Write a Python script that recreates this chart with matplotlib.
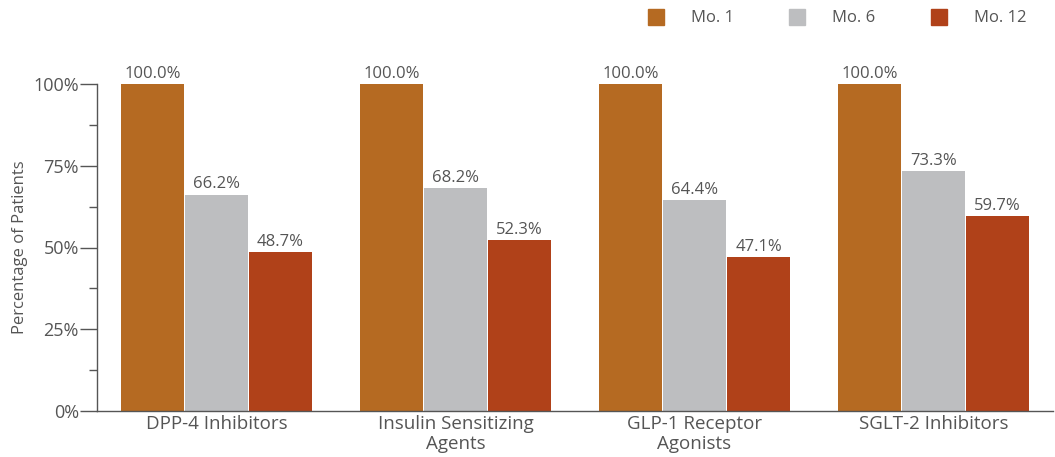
import numpy as np
import matplotlib.pyplot as plt
from matplotlib.ticker import FixedLocator, PercentFormatter
from matplotlib.lines import Line2D

# Persistence by drug class at each follow-up month
categories = ['DPP-4 Inhibitors', 'Insulin Sensitizing\nAgents',
              'GLP-1 Receptor\nAgonists', 'SGLT-2 Inhibitors']
series_names = ['Mo. 1', 'Mo. 6', 'Mo. 12']
mo1 = [100.0, 100.0, 100.0, 100.0]
mo6 = [66.2, 68.2, 64.4, 73.3]
mo12 = [48.7, 52.3, 47.1, 59.7]
colors = ['#b56a22', '#bdbec0', '#b04119']
text_color = '#555555'

plt.rcParams['font.family'] = ['Open Sans', 'DejaVu Sans']

fig = plt.figure(figsize=(10.55, 4.57), dpi=100)
ax = fig.add_axes([97 / 1055, 46 / 457, 956 / 1055, 327 / 457])

x = np.arange(len(categories))
width = 0.26
step = 0.268
for i, (vals, name, c) in enumerate(zip([mo1, mo6, mo12], series_names, colors)):
    pos = x + (i - 1) * step
    ax.bar(pos, vals, width=width, color=c, label=name, zorder=2)
    for p, v in zip(pos, vals):
        ax.annotate(f'{v:.1f}%', (p, v), xytext=(0, 1.5), textcoords='offset points',
                    ha='center', va='bottom', fontsize=12, color=text_color)

ax.set_xlim(-0.5, len(categories) - 0.5)
ax.set_ylim(0, 100)
ax.yaxis.set_major_locator(FixedLocator([0, 25, 50, 75, 100]))
ax.yaxis.set_minor_locator(FixedLocator([12.5, 37.5, 62.5, 87.5]))
ax.yaxis.set_major_formatter(PercentFormatter(decimals=0))
ax.tick_params(axis='y', which='major', length=12, width=1, color='#555555',
               labelsize=13, labelcolor=text_color, pad=1)
ax.tick_params(axis='y', which='minor', length=6, width=1, color='#555555')
ax.set_xticks(x)
ax.set_xticklabels(categories, linespacing=1.1)
ax.tick_params(axis='x', length=0, labelsize=13.5, labelcolor=text_color, pad=3)

for side in ['top', 'right']:
    ax.spines[side].set_visible(False)
for side in ['left', 'bottom']:
    ax.spines[side].set_color('#555555')
    ax.spines[side].set_linewidth(1)

ax.set_ylabel('Percentage of Patients', fontsize=12, color=text_color, labelpad=4)

handles = [Line2D([], [], marker='s', linestyle='none', markersize=11,
                  markerfacecolor=c, markeredgecolor=c) for c in colors]
fig.legend(handles, series_names, loc='upper right', bbox_to_anchor=(1041 / 1055, 1.01),
           ncol=3, frameon=False, fontsize=12, labelcolor=text_color,
           handletextpad=1.6, columnspacing=3.3, handlelength=1)

fig.savefig('out.png', dpi=100)
